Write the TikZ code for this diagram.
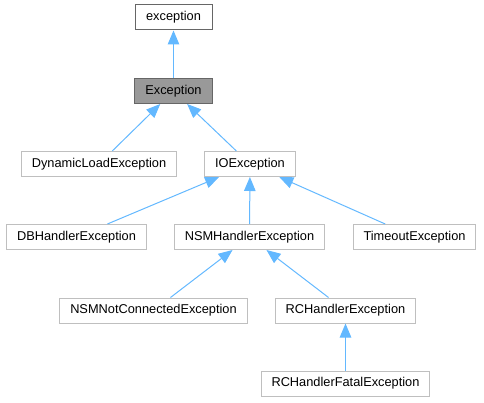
\documentclass[tikz,border=0pt]{standalone}
\usepackage{fontspec}
\setmainfont{Liberation Sans}
\usetikzlibrary{arrows.meta}

\definecolor{edgeblue}{HTML}{63B8FF}
\definecolor{boxgray}{HTML}{BFBFBF}
\definecolor{darkgray}{HTML}{666666}
\definecolor{fillgray}{HTML}{999999}

\tikzset{
  cls/.style={draw=boxgray, line width=1pt, minimum height=25pt, inner xsep=10.5pt, font=\fontsize{12.8}{14}\selectfont},
  base/.style={cls, draw=darkgray},
  edge/.style={draw=edgeblue, line width=1pt, -{Triangle[length=14pt,width=11.5pt]}}
}

\begin{document}
\begin{tikzpicture}[x=1pt, y=-1pt]

\useasboundingbox (0,0) rectangle (484,403);

\node [base, minimum width=77pt]                 (excbase) at (173.5, 17.5) {exception};
\node [base, fill=fillgray, minimum width=77pt]  (Exc)     at (173.5, 91)   {Exception};

% Second row
\node [cls] (dynload) at (99, 164)  {DynamicLoadException};
\node [cls] (io)      at (250, 164) {IOException};

% Third row
\node [cls] (dbh)     at (76.5, 237)  {DBHandlerException};
\node [cls] (nsmh)    at (249.5, 237) {NSMHandlerException};
\node [cls] (timeout) at (414.5, 237) {TimeoutException};

% Fourth row
\node [cls] (nsmnc)   at (153.5, 310.5) {NSMNotConnectedException};
\node [cls] (rch)     at (345.5, 310.5) {RCHandlerException};

% Last row
\node [cls] (rchfatal) at (345.5, 383.5) {RCHandlerFatalException};

\draw [edge] (Exc) -- (excbase);
\draw [edge] (dynload) -- (Exc);
\draw [edge] (io) -- (Exc);
\draw [edge] (dbh) -- (io);
\draw [edge] (nsmh) -- (io);
\draw [edge] (timeout) -- (io);
\draw [edge] (nsmnc) -- (nsmh);
\draw [edge] (rch) -- (nsmh);
\draw [edge] (rchfatal) -- (rch);

% -------- end of graph -----------
\end{tikzpicture}
\end{document}
